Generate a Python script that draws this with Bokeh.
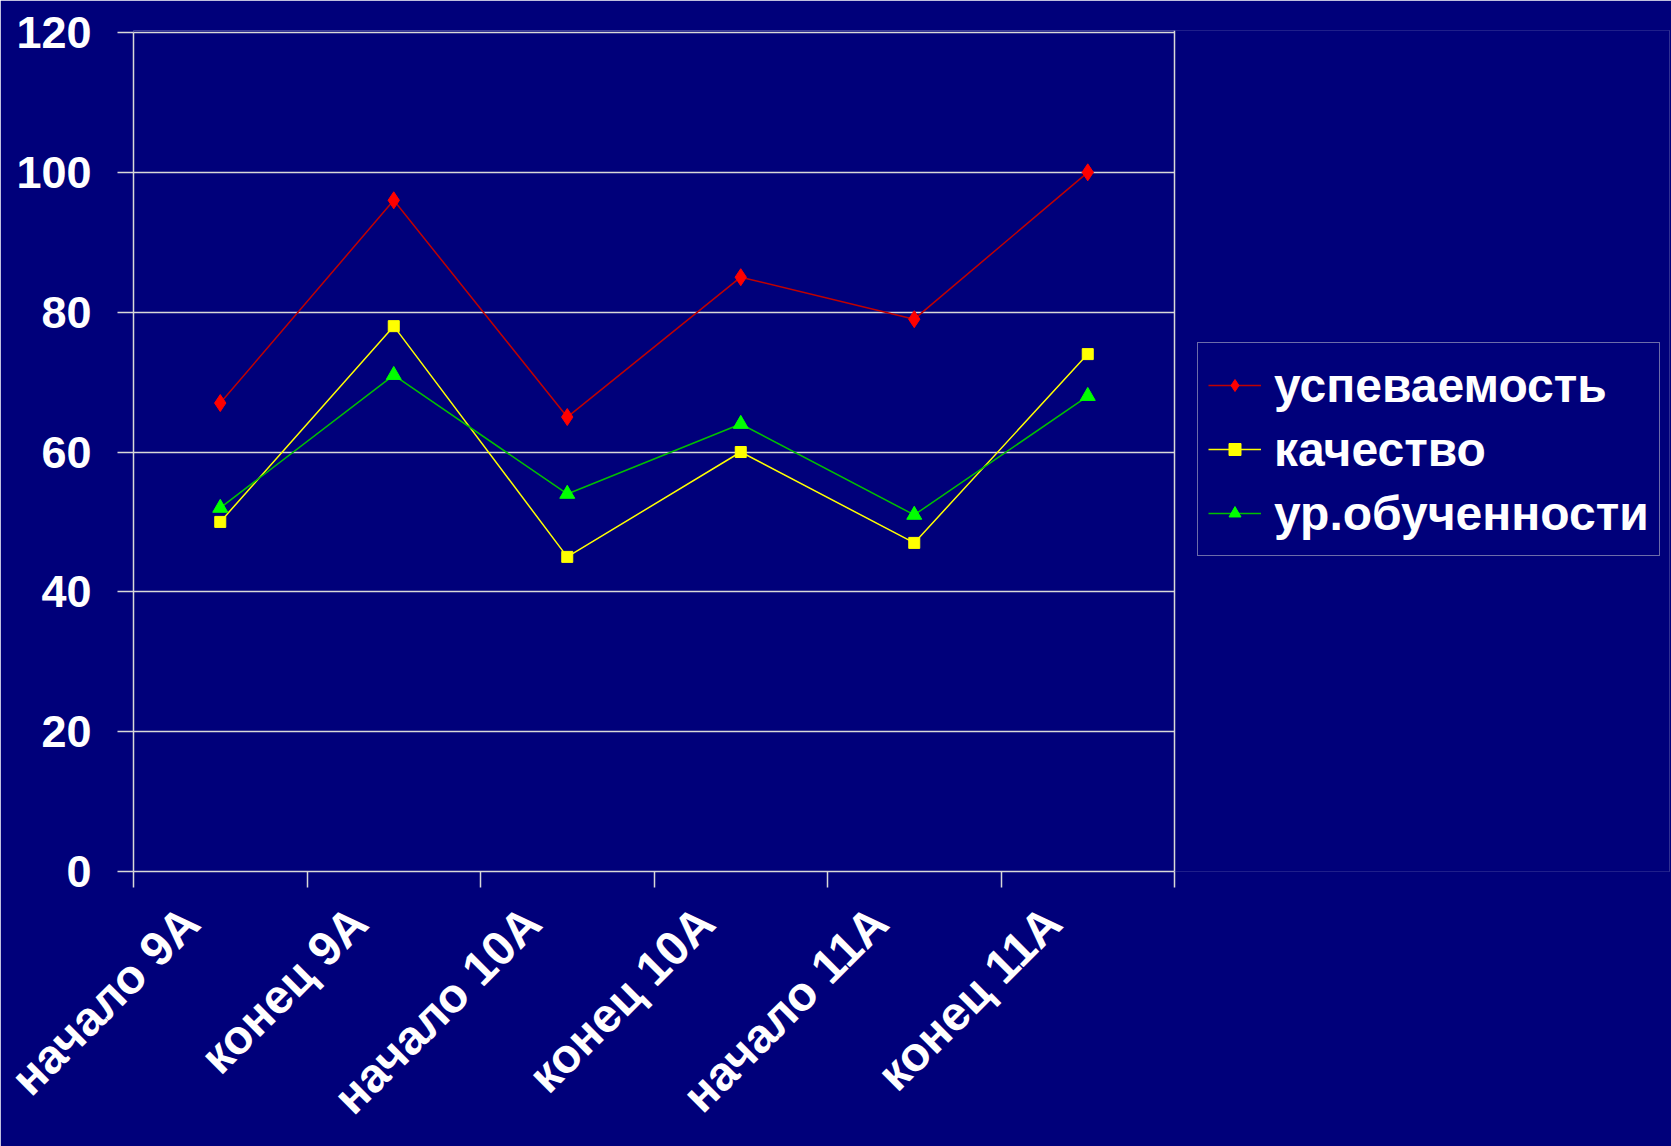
import math
from bokeh.plotting import figure
from bokeh.models import FixedTicker, Legend, LegendItem, Range1d, BoxAnnotation, Span
from bokeh.embed import file_html
from bokeh.resources import INLINE

categories = ["начало 9А", "конец 9А", "начало 10А", "конец 10А", "начало 11А", "конец 11А"]
uspevaemost = [67, 96, 65, 85, 79, 100]
kachestvo = [50, 78, 45, 60, 47, 74]
obuchennost = [52, 71, 54, 64, 51, 68]
y_ticks = [0, 20, 40, 60, 80, 100, 120]

N = len(categories)
xs = [i + 0.5 for i in range(N)]
LABEL_SHIFT = 0.2
label_pos = [x - LABEL_SHIFT for x in xs]

FONT = "Liberation Sans"
BG = "#00007A"
GRID = "#D8D8D8"

W, H = 1671, 1146
LEFT, RIGHT, TOP, BOTTOM = 133, 2, 30, 275
PLOT_W = 1041   # pixel width of the category area
PLOT_H = 839    # pixel height of 0..120
frame_w = W - LEFT - RIGHT
frame_h = H - TOP - BOTTOM
x_end = N * frame_w / PLOT_W
y_end = y_ticks[-1] * frame_h / PLOT_H

p = figure(width=W, height=H, output_backend="svg", toolbar_location=None,
           x_range=Range1d(0, x_end), y_range=Range1d(0, y_end),
           min_border_left=LEFT, min_border_right=RIGHT, min_border_top=TOP, min_border_bottom=BOTTOM)
p.background_fill_color = BG
p.border_fill_color = BG
p.outline_line_color = None

# axes
p.yaxis.ticker = FixedTicker(ticks=y_ticks)
p.yaxis.major_label_text_font = FONT
p.yaxis.major_label_text_font_style = "bold"
p.yaxis.major_label_text_font_size = "45px"
p.yaxis.major_label_text_color = "white"
p.yaxis.major_tick_out = 16
p.yaxis.major_tick_in = 0
p.yaxis.minor_tick_line_color = None
p.yaxis.axis_line_color = GRID
p.yaxis.major_tick_line_color = GRID
p.yaxis.axis_line_width = 1.5
p.yaxis.major_tick_line_width = 1.5
p.yaxis.major_label_standoff = 26
p.yaxis.bounds = (0, y_ticks[-1])

p.xaxis.bounds = (0, N)
p.xaxis.ticker = FixedTicker(ticks=label_pos, minor_ticks=list(range(N + 1)))
p.xaxis.major_label_overrides = {x: c for x, c in zip(label_pos, categories)}
p.xaxis.major_label_orientation = math.pi / 4
p.xaxis.major_label_text_font = FONT
p.xaxis.major_label_text_font_style = "bold"
p.xaxis.major_label_text_font_size = "48px"
p.xaxis.major_label_text_color = "white"
p.xaxis.major_tick_out = 0
p.xaxis.major_tick_in = 0
p.xaxis.minor_tick_out = 16
p.xaxis.minor_tick_in = 0
p.xaxis.minor_tick_line_color = GRID
p.xaxis.minor_tick_line_width = 1.5
p.xaxis.axis_line_color = GRID
p.xaxis.axis_line_width = 1.5
p.xaxis.major_label_standoff = 27

p.xgrid.grid_line_color = None
p.ygrid.ticker = FixedTicker(ticks=y_ticks[1:])
p.ygrid.grid_line_color = GRID
p.ygrid.grid_line_width = 1.5
try:
    p.ygrid.cross_bounds = (0, N)
except Exception:
    pass

# hide the part of the frame right of the category area
cover = BoxAnnotation(left=N, bottom=-10, top=y_end + 10, fill_color=BG, fill_alpha=1.0,
                      line_color=None, level="underlay")
p.add_layout(cover)
p.add_layout(Span(location=N, dimension="height", line_color=GRID, line_width=1.5))

# series
l1 = p.line(xs, uspevaemost, line_color="#C00000", line_width=1.5)
m1 = p.scatter(xs, uspevaemost, marker="diamond", size=17, fill_color="#FF0000", line_color="#FF0000")
l2 = p.line(xs, kachestvo, line_color="#FFFF00", line_width=1.5)
m2 = p.scatter(xs, kachestvo, marker="square", size=11, fill_color="#FFFF00", line_color="#FFFF00")
l3 = p.line(xs, obuchennost, line_color="#00C000", line_width=1.5)
m3 = p.scatter(xs, obuchennost, marker="triangle", size=15, fill_color="#00FF00", line_color="#00FF00")

legend = Legend(items=[
    LegendItem(label="успеваемость", renderers=[l1, m1]),
    LegendItem(label="качество", renderers=[l2, m2]),
    LegendItem(label="ур.обученности", renderers=[l3, m3]),
], location=(1064, 315))
legend.label_text_font = FONT
legend.label_text_font_style = "bold"
legend.label_text_font_size = "48px"
legend.label_text_color = "white"
legend.label_height = 64
legend.glyph_height = 30
legend.glyph_width = 53
legend.label_standoff = 13
legend.spacing = 0
legend.padding = 10
legend.margin = 0
legend.background_fill_alpha = 0
legend.border_line_color = GRID
legend.border_line_width = 1.5
p.add_layout(legend, "center")

open("out.html", "w").write(file_html(p, INLINE))
